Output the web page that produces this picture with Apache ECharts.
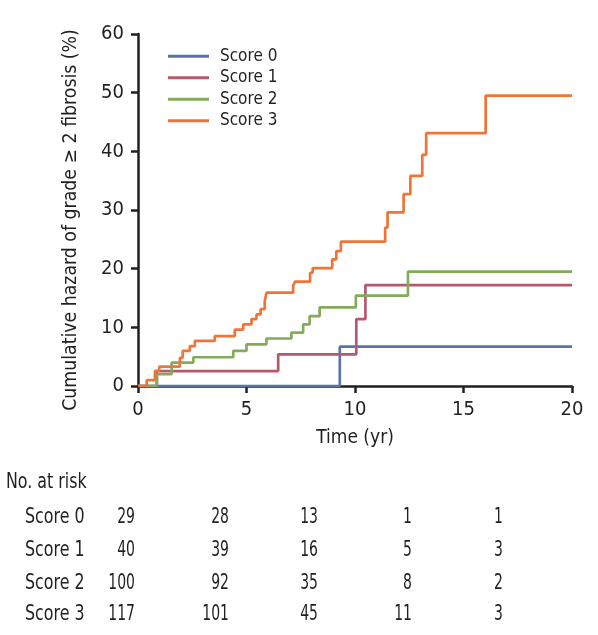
<!DOCTYPE html>
<html>
<head>
<meta charset="utf-8">
<script src="https://cdn.jsdelivr.net/npm/echarts@6/dist/echarts.min.js"></script>
<style>
html,body{margin:0;padding:0;background:#fff;}
#chart{width:598px;height:635px;}
</style>
</head>
<body>
<div id="chart"></div>
<script>
// ---- data ----
const seriesNames = ['Score 0', 'Score 1', 'Score 2', 'Score 3'];
const score0 = [[0,0],[9.3,6.7],[20,6.7]];
const score1 = [[0,0],[0.87,2.55],[6.46,5.4],[10.06,11.4],[10.48,17.2],[20,17.2]];
const score2 = [[0,0],[0.87,2.0],[1.55,4.0],[2.55,4.9],[4.39,6.0],[5.0,7.1],[5.92,8.1],[7.07,9.1],[7.61,10.5],[7.91,11.9],[8.37,13.4],[10.04,15.4],[12.44,19.5],[20,19.5]];
const score3 = [[0,0],[0.4,1.0],[0.78,2.6],[0.98,3.3],[1.93,4.8],[2.06,6.0],[2.39,6.8],[2.62,7.7],[3.54,8.5],[4.46,9.6],[4.85,10.5],[5.23,11.4],[5.46,12.2],[5.65,13.1],[5.84,14.5],[5.92,15.9],[7.15,17.1],[7.24,17.8],[7.93,19.3],[8.05,20.1],[8.95,21.6],[9.14,23.0],[9.35,24.6],[11.39,27.0],[11.5,29.6],[12.24,32.7],[12.55,35.8],[13.1,39.4],[13.28,43.1],[16.02,49.5],[20,49.5]];
const xTicks = [0, 5, 10, 15, 20];
const yTicks = [0, 10, 20, 30, 40, 50, 60];
const riskRowLabels = ['Score 0', 'Score 1', 'Score 2', 'Score 3'];
const risk0 = [29, 28, 13, 1, 1];
const risk1 = [40, 39, 16, 5, 3];
const risk2 = [100, 92, 35, 8, 2];
const risk3 = [117, 101, 45, 11, 3];
const riskTitle = 'No. at risk';
const yTitle = 'Cumulative hazard of grade \u2265 2 fibrosis (%)';
const xTitle = 'Time (yr)';

// ---- styles ----
const FONT = '"Liberation Sans Narrow","DejaVu Sans Condensed","Liberation Sans",sans-serif';
const INK = '#231f20';
const colors = ['#5a74a7', '#b5596d', '#84ab5c', '#ee7538'];
const allData = [score0, score1, score2, score3];
const riskData = [risk0, risk1, risk2, risk3];

const chart = echarts.init(document.getElementById('chart'), null, {renderer: 'canvas'});

const series = seriesNames.map((n, i) => ({
  name: n,
  type: 'line',
  step: 'end',
  data: allData[i],
  showSymbol: false,
  symbol: 'none',
  lineStyle: {color: colors[i], width: 2.7},
  itemStyle: {color: colors[i]},
  z: 2 + i
}));

// risk table as graphic texts (horizontally condensed to mimic narrow face)
const colRight = [135, 229, 318, 412, 503];
const rowY = [518, 551, 584, 615];
const graphics = [{
  type: 'text', x: 6, y: 483, scaleX: 0.84,
  style: {text: riskTitle, font: '21px ' + FONT, fill: INK, textAlign: 'left', textVerticalAlign: 'middle'}
}];
riskRowLabels.forEach((lab, r) => {
  graphics.push({
    type: 'text', x: 25, y: rowY[r], scaleX: 0.84,
    style: {text: lab, font: '21px ' + FONT, fill: INK, textAlign: 'left', textVerticalAlign: 'middle'}
  });
  riskData[r].forEach((v, c) => {
    graphics.push({
      type: 'text', x: colRight[c], y: rowY[r], scaleX: 0.74,
      style: {text: String(v), font: '21px ' + FONT, fill: INK, textAlign: 'right', textVerticalAlign: 'middle'}
    });
  });
});

const option = {
  backgroundColor: '#fff',
  animation: false,
  color: colors,
  grid: {left: 138, right: 26, top: 34, bottom: 249, containLabel: false},
  legend: {
    data: seriesNames,
    orient: 'vertical',
    left: 168,
    top: 45.5,
    padding: 0,
    icon: 'rect',
    itemWidth: 41,
    itemHeight: 3,
    itemGap: 0,
    textStyle: {fontFamily: FONT, fontSize: 17, color: INK, lineHeight: 21.5, padding: [0, 0, 0, 6]}
  },
  xAxis: {
    type: 'value',
    min: 0, max: 20, interval: 5,
    name: xTitle,
    nameLocation: 'middle',
    nameGap: 43,
    nameTextStyle: {fontFamily: FONT, fontSize: 19, color: INK},
    axisLine: {show: true, lineStyle: {color: INK, width: 2.5}},
    axisTick: {show: true, length: 7, lineStyle: {color: INK, width: 2.5}},
    axisLabel: {fontFamily: FONT, fontSize: 20, color: INK, margin: 14,
      formatter: v => xTicks.includes(v) ? String(v) : ''},
    splitLine: {show: false}
  },
  yAxis: {
    type: 'value',
    min: 0, max: 60, interval: 10,
    name: yTitle,
    nameLocation: 'middle',
    nameGap: 58,
    nameRotate: 90,
    nameTextStyle: {fontFamily: FONT, fontSize: 19.3, color: INK, padding: [0, 20, 0, 0]},
    axisLine: {show: true, lineStyle: {color: INK, width: 2.5}},
    axisTick: {show: true, length: 7, lineStyle: {color: INK, width: 2.5}},
    axisLabel: {fontFamily: FONT, fontSize: 20, color: INK, margin: 14,
      formatter: v => yTicks.includes(v) ? String(v) : ''},
    splitLine: {show: false}
  },
  series: series,
  graphic: graphics
};
chart.setOption(option);
</script>
</body>
</html>
